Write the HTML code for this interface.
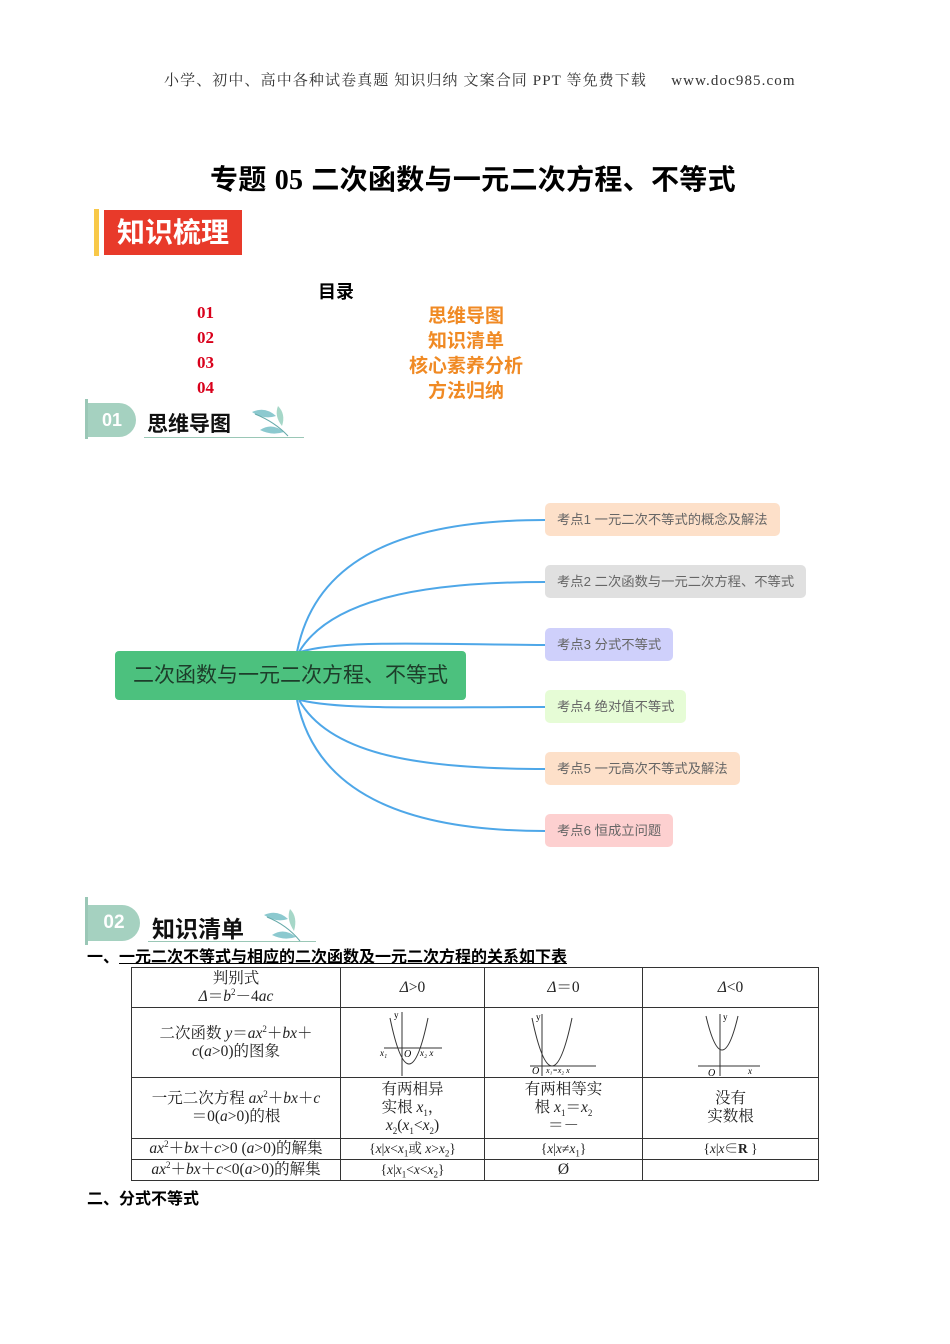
<!DOCTYPE html>
<html><head><meta charset="utf-8"><style>
body{margin:0;background:#fff;}
#p{position:relative;width:950px;height:1344px;overflow:hidden;font-family:"Liberation Serif","Noto Serif CJK SC",serif;}
.a{position:absolute;white-space:nowrap;}
.s{font-family:"Liberation Sans","Noto Sans CJK SC",sans-serif;}
.red{color:#d9001b;font-weight:bold;font-size:17px;}
.org{color:#f08a24;font-weight:bold;font-size:18px;font-family:"Liberation Sans","Noto Sans CJK SC",sans-serif;}
.node{position:absolute;height:33px;line-height:33px;border-radius:5px;padding:0 12px;font-size:13.3px;color:#666;font-family:"Liberation Sans","Noto Sans CJK SC",sans-serif;}
table{position:absolute;left:131px;top:967px;border-collapse:collapse;font-size:15.5px;color:#222;table-layout:fixed;}
td{border:1px solid #333;text-align:center;padding:0;line-height:18px;overflow:hidden;}
sup,sub{line-height:0;font-size:9px;}
</style></head><body><div id="p">
<div class="a" style="left:164px;top:69px;font-size:15px;color:#333;letter-spacing:1.1px;">小学、初中、高中各种试卷真题&nbsp;知识归纳&nbsp;文案合同&nbsp;PPT 等免费下载 &nbsp;&nbsp;&nbsp;&nbsp;www.doc985.com</div>
<div class="a s" style="left:210px;top:158px;font-size:28px;font-weight:bold;color:#000;letter-spacing:0.3px;">专题 <span style="font-family:'Liberation Serif',serif">05</span> 二次函数与一元二次方程、不等式</div>
<div class="a" style="left:94px;top:209px;width:5px;height:47px;background:#f8c848;"></div>
<div class="a s" style="left:104px;top:210px;width:138px;height:45px;background:#e83a2a;color:#fff;font-size:28px;font-weight:bold;line-height:45px;text-align:center;">知识梳理</div>
<div class="a s" style="left:318px;top:278px;font-size:18px;font-weight:bold;">目录</div>
<div class="a red" style="left:197px;top:303px;">01</div>
<div class="a red" style="left:197px;top:328px;">02</div>
<div class="a red" style="left:197px;top:353px;">03</div>
<div class="a red" style="left:197px;top:378px;">04</div>
<div class="a org" style="left:428px;top:301px;font-size:19px;">思维导图</div>
<div class="a org" style="left:428px;top:326px;font-size:19px;">知识清单</div>
<div class="a org" style="left:409px;top:351px;font-size:19px;">核心素养分析</div>
<div class="a org" style="left:428px;top:376px;font-size:19px;">方法归纳</div>
<!-- section 01 -->
<div class="a" style="left:85px;top:399px;width:3px;height:40px;background:#9ac7b6;"></div>
<div class="a s" style="left:88px;top:403px;width:48px;height:34px;background:#a5d1c0;border-radius:0 17px 17px 0;color:#fff;font-weight:bold;font-size:18px;line-height:34px;text-align:center;">01</div>
<div class="a s" style="left:147px;top:408px;font-size:21px;font-weight:bold;color:#111;">思维导图</div>
<div class="a" style="left:144px;top:437px;width:160px;height:1px;background:#9ac7b6;"></div>
<svg class="a" style="left:250px;top:402px" width="45" height="36"><path d="M2,10 Q15,4 26,14 Q14,18 2,10Z" fill="#8cc9cf"/><path d="M10,28 Q22,20 34,30 Q22,34 10,28Z" fill="#8cc9cf"/><path d="M28,4 Q36,12 32,24 Q24,14 28,4Z" fill="#a6d7c8"/><path d="M5,12 Q25,20 38,34" stroke="#6aa" fill="none"/></svg>
<!-- mindmap -->
<svg class="a" style="left:0;top:0" width="950" height="900">
<g fill="none" stroke="#4ea7e8" stroke-width="2">
<path d="M297,652 C315,560 400,520 545,520"/>
<path d="M299,652 C330,600 420,582 545,582"/>
<path d="M300,652 C340,640 420,644 545,645"/>
<path d="M300,700 C340,710 420,707 545,707"/>
<path d="M299,700 C330,755 420,769 545,769"/>
<path d="M297,700 C315,790 400,831 545,831"/>
</g></svg>
<div class="a s" style="left:115px;top:651px;width:351px;height:49px;background:#4cc17e;border-radius:4px;color:#1d3d2a;font-size:21px;line-height:49px;text-align:center;">二次函数与一元二次方程、不等式</div>
<div class="node" style="left:545px;top:503px;background:#fde0c9;">考点1 一元二次不等式的概念及解法</div>
<div class="node" style="left:545px;top:565px;background:#e0e0e0;">考点2 二次函数与一元二次方程、不等式</div>
<div class="node" style="left:545px;top:628px;background:#cfd0fb;">考点3 分式不等式</div>
<div class="node" style="left:545px;top:690px;background:#e6fcd6;">考点4 绝对值不等式</div>
<div class="node" style="left:545px;top:752px;background:#fde0c9;">考点5 一元高次不等式及解法</div>
<div class="node" style="left:545px;top:814px;background:#fdd0d0;">考点6 恒成立问题</div>
<!-- section 02 -->
<div class="a" style="left:85px;top:897px;width:3px;height:48px;background:#9ac7b6;"></div>
<div class="a s" style="left:88px;top:905px;width:52px;height:36px;background:#a5d1c0;border-radius:0 18px 18px 0;color:#fff;font-weight:bold;font-size:19px;line-height:36px;text-align:center;">02</div>
<div class="a s" style="left:152px;top:910px;font-size:23px;font-weight:bold;color:#111;">知识清单</div>
<div class="a" style="left:148px;top:941px;width:168px;height:1px;background:#9ac7b6;"></div>
<svg class="a" style="left:262px;top:905px" width="45" height="38"><path d="M2,10 Q15,4 26,14 Q14,18 2,10Z" fill="#8cc9cf"/><path d="M10,30 Q22,22 34,32 Q22,36 10,30Z" fill="#8cc9cf"/><path d="M28,4 Q36,12 32,26 Q24,14 28,4Z" fill="#a6d7c8"/><path d="M5,12 Q25,20 38,36" stroke="#6aa" fill="none"/></svg>
<div class="a s" style="left:87px;top:948px;font-size:16px;font-weight:bold;color:#000;line-height:20px;">一、<span style="text-decoration:underline">一元二次不等式与相应的二次函数及一元二次方程的关系如下表</span></div>
<table>
<colgroup><col style="width:209px"><col style="width:144px"><col style="width:158px"><col style="width:176px"></colgroup>
<tr style="height:40px"><td>判别式<br><i>Δ</i>＝<i>b</i><sup>2</sup>－4<i>ac</i></td><td><i>Δ</i>&gt;0</td><td><i>Δ</i>＝0</td><td><i>Δ</i>&lt;0</td></tr>
<tr style="height:70px"><td>二次函数 <i>y</i>＝<i>ax</i><sup>2</sup>＋<i>bx</i>＋<br><i>c</i>(<i>a</i>&gt;0)的图象</td>
<td><svg width="70" height="66" style="display:block;margin:auto"><g stroke="#333" fill="none"><path d="M6,38 H64"/><path d="M24,66 V2"/><path d="M12,8 Q31,100 50,8"/></g><text x="2" y="46" font-size="9" font-style="italic">x₁</text><text x="26" y="47" font-size="10" font-style="italic">O</text><text x="42" y="46" font-size="9" font-style="italic">x₂ x</text><text x="16" y="8" font-size="9">y</text></svg></td>
<td><svg width="80" height="66" style="display:block;margin:auto"><g stroke="#333" fill="none"><path d="M6,56 H72"/><path d="M18,66 V4"/><path d="M8,8 Q28,104 48,8"/></g><text x="8" y="64" font-size="10" font-style="italic">O</text><text x="22" y="63" font-size="8" font-style="italic">x₁=x₂ x</text><text x="12" y="10" font-size="9">y</text></svg></td>
<td><svg width="70" height="66" style="display:block;margin:auto"><g stroke="#333" fill="none"><path d="M2,56 H64"/><path d="M24,66 V4"/><path d="M10,6 Q26,74 42,6"/></g><text x="12" y="66" font-size="10" font-style="italic">O</text><text x="52" y="64" font-size="9" font-style="italic">x</text><text x="27" y="10" font-size="9">y</text></svg></td></tr>
<tr style="height:61px"><td>一元二次方程 <i>ax</i><sup>2</sup>＋<i>bx</i>＋<i>c</i><br>＝0(<i>a</i>&gt;0)的根</td><td>有两相异<br>实根 <i>x</i><sub>1</sub>，<br><i>x</i><sub>2</sub>(<i>x</i><sub>1</sub>&lt;<i>x</i><sub>2</sub>)</td><td>有两相等实<br>根 <i>x</i><sub>1</sub>＝<i>x</i><sub>2</sub><br>＝－</td><td>没有<br>实数根</td></tr>
<tr style="height:21px"><td><i>ax</i><sup>2</sup>＋<i>bx</i>＋<i>c</i>&gt;0 (<i>a</i>&gt;0)的解集</td><td style="font-size:13.5px">{<i>x</i>|<i>x</i>&lt;<i>x</i><sub>1</sub>或 <i>x</i>&gt;<i>x</i><sub>2</sub>}</td><td style="font-size:13.5px">{<i>x</i>|<i>x</i>≠<i>x</i><sub>1</sub>}</td><td style="font-size:13.5px">{<i>x</i>|<i>x</i>∈<b>R</b> }</td></tr>
<tr style="height:21px"><td><i>ax</i><sup>2</sup>＋<i>bx</i>＋<i>c</i>&lt;0(<i>a</i>&gt;0)的解集</td><td style="font-size:13.5px">{<i>x</i>|<i>x</i><sub>1</sub>&lt;<i>x</i>&lt;<i>x</i><sub>2</sub>}</td><td>Ø</td><td></td></tr>
</table>
<div class="a s" style="left:87px;top:1185px;font-size:16px;font-weight:bold;color:#000;">二、分式不等式</div>
</div></body></html>
